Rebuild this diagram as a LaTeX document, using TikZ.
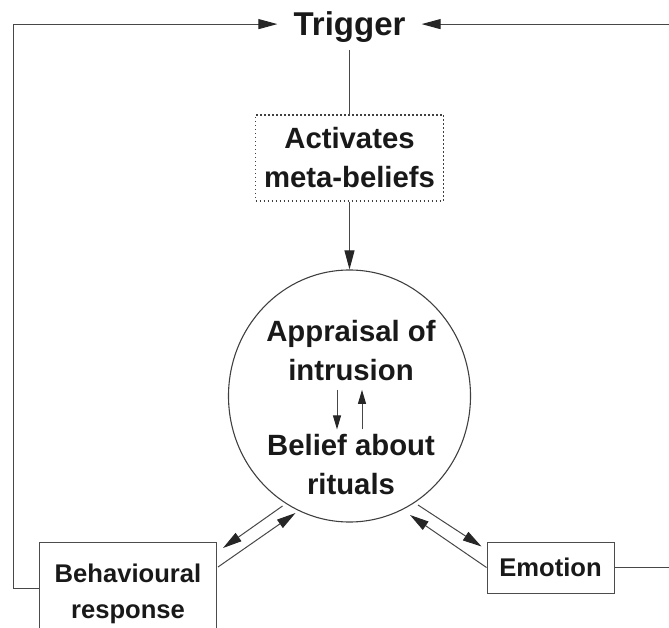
\documentclass[tikz,border=0pt]{standalone}
\usepackage{fontspec}
\setmainfont{Liberation Sans}
\usetikzlibrary{arrows.meta,calc,shapes.geometric}
\begin{document}
\begin{tikzpicture}[x=1pt,y=-1pt,
  ln/.style={draw=black!72,line width=1pt},
  arr/.style={ln,-{Triangle[length=19pt,width=10pt,color=black!85]}},
  sarr/.style={ln,-{Triangle[length=14pt,width=8pt,color=black!85]}},
  lbl/.style={font=\bfseries\fontsize{29.3}{39}\selectfont,text=black!90,align=center},
  boxlbl/.style={draw=black!70,line width=1pt,font=\bfseries\fontsize{25.6}{36}\selectfont,text=black!90,align=center}]
\useasboundingbox (0,0) rectangle (669,628);
\node[font=\bfseries\fontsize{33}{40}\selectfont,text=black!90,inner xsep=16pt,inner ysep=8pt] (trig) at (349.5,26.6) {Trigger};
\node[lbl,draw=black!75,dash pattern=on 1.5pt off 2.5pt,line width=1.5pt,minimum width=188pt,minimum height=86pt] (act) at (349.5,158) {Activates\\meta-beliefs};
\node[ellipse,draw=black!75,line width=1.1pt,minimum width=242pt,minimum height=252pt,inner sep=0pt] (circ) at (349.5,396) {};
\node[lbl,inner ysep=9pt] (app) at (351,350.4) {Appraisal of\\intrusion};
\node[lbl,inner ysep=5pt] (bel) at (351,464.9) {Belief about\\rituals};
\node[boxlbl,minimum width=177pt,minimum height=102pt,anchor=north west] (beh) at (39,542) {Behavioural\\response};
\node[boxlbl,minimum width=127pt,minimum height=51pt] (emo) at (550.5,567.5) {Emotion};
% connectors
\draw[ln] (trig.south) -- (act.north);
\draw[arr] (act.south) -- (circ.north);
\draw[sarr] ([xshift=-14pt]app.south) -- ([xshift=-14pt]bel.north);
\draw[sarr] ([xshift=11pt]bel.north) -- ([xshift=11pt]app.south);
\draw[arr] ($(circ.center)+(-67,110)$) -- ($(beh.north east)+(6,6)$);
\draw[arr] ($(beh.north east)+(1,25)$) -- ($(circ.center)+(-54,117)$);
\draw[arr] ($(circ.center)+(68.5,109)$) -- ($(emo.north west)+(-5,5)$);
\draw[arr] (emo.west) -- ($(circ.center)+(60.5,119)$);
\draw[arr] ([yshift=5pt]beh.west) -- ++(-26,0) |- ([yshift=2.5pt]trig.west);
\draw[arr] (emo.east) -- ++(70,0) |- ([yshift=2.5pt]trig.east);
\end{tikzpicture}
\end{document}
